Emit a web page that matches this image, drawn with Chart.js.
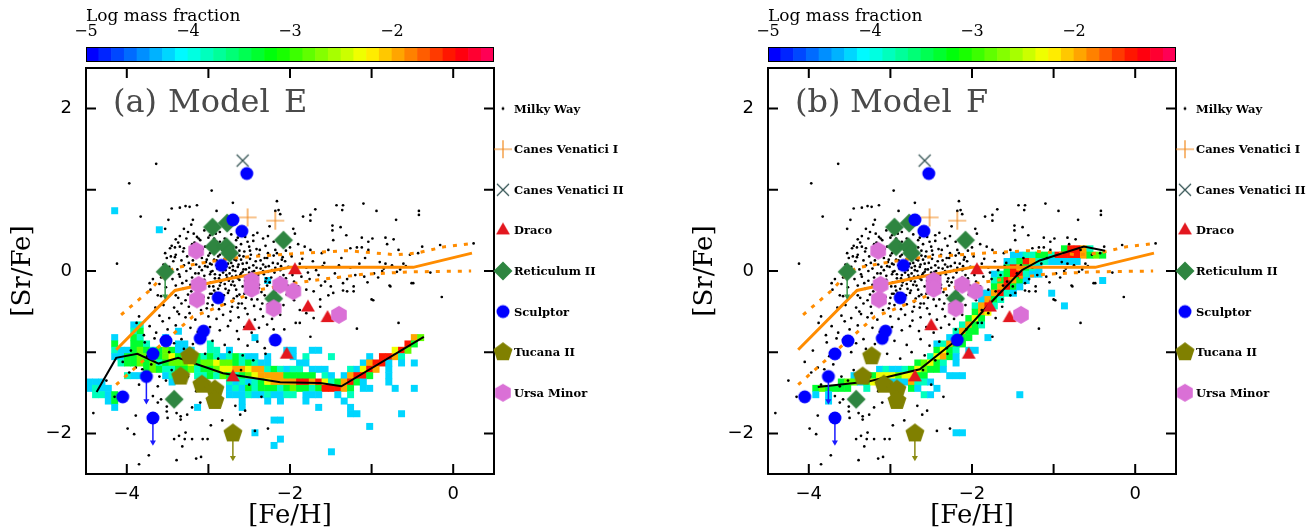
<!DOCTYPE html>
<html>
<head>
<meta charset="utf-8">
<script src="https://cdn.jsdelivr.net/npm/chart.js@4.4.1/dist/chart.umd.min.js"></script>
<style>
  html, body { margin: 0; padding: 0; background: #fff; }
  #page { position: relative; width: 1309px; height: 529px; overflow: hidden; }
  canvas { position: absolute; top: 0; }
</style>
</head>
<body>
<div id="page">
  <canvas id="panelA" width="654" height="529" style="left:0"></canvas>
  <canvas id="barA" width="654" height="68" style="left:0"></canvas>
  <canvas id="panelB" width="627" height="529" style="left:682px"></canvas>
  <canvas id="barB" width="627" height="68" style="left:682px"></canvas>
</div>
<script>
// axes
const feRange = [-4.5, 0.5];
const srRange = [-2.5, 2.5];
const feTickLabels = [-4, -2, 0];
const srTickLabels = [-2, 0, 2];
const feFrameTicks = [-4, -3, -2, -1, 0];
const srFrameTicks = [-2, -1, 0, 1, 2];
const cbRange = [-5, -1];
const cbTickLabels = [-5, -4, -3, -2];
const cbStep = 0.125;
const binSize = 0.078125;

// log mass fraction for each letter used in the model grids
const levelValue = { c: -4.2, t: -3.85, g: -3.35, l: -2.85, y: -2.35, o: -1.95, r: -1.5 };

// model grid cells: [row, first column, cells]  ('.' = empty)
const heatE = [
  [41, 4, 'c'], [38, 11, 'c'], [30, 28, 'c'],
  [23, 7, 'ct'],
  [22, 7, 'tg.....c'],
  [21, 4, 'c..gt...c'], [21, 26, 'c'], [21, 51, 'ol'],
  [20, 4, 'g..ggt....cc...t'], [20, 50, 'rg'],
  [19, 4, 'tccglgtglgccc..tt.c'], [19, 31, 'cc..cc'], [19, 48, 'yrl'],
  [18, 4, 'ccggllggly' + 'glggtgtctg' + 'tcc.c'], [18, 32, 'c.t...t.....c.rrot'],
  [17, 5, 'tgglgltgll' + 'lygllyllgt' + 'gtcc'], [17, 33, 'cc........corrc.c.c'],
  [16, 9, 'glgttggltg' + 'glyyooyoot' + 'gtctt.ccc.' + '..tcyro.c'],
  [15, 6, 'tcc...ctcc' + '.ttgtlgtgl' + 'yooooggggg' + '.tc.corrg.' + '.c'],
  [14, 0, 'ccc..........c'], [14, 22, 'tctctgyooo' + 'orrorytgor' + 'gc...c'],
  [13, 0, 'ctcc'], [13, 22, 'ctcgtgggtg' + 'lggtgrrrog' + '.cc...c..c'],
  [12, 1, 'ttcg'], [12, 22, 'ccctcctcct' + 't.ccc..c.t'],
  [11, 3, 'cg'], [11, 24, 'c...c.c...c.....c'],
  [10, 4, 'c'], [10, 17, 'c'], [10, 24, 'c'], [10, 36, 'c'], [10, 41, 'c'],
  [9, 41, 'cc......c'],
  [8, 29, 'cc'], [7, 44, 'c'], [6, 26, 'c'], [5, 30, 'c'], [4, 29, 'c'], [3, 38, 'c']
];
const heatF = [
  [35, 46, 'grrot'],
  [34, 38, 'ccttggtrrrroglg'],
  [33, 37, 'ctgrottccccc'],
  [32, 37, 'grogtc'],
  [31, 35, 'ctgrrtcc'],
  [30, 35, 'tgrogc'], [30, 52, 'c'],
  [29, 35, 'gorgc'],
  [28, 33, 'ccortc'], [28, 44, 'c'],
  [27, 33, 'cogt'],
  [26, 32, 'tort..........c'],
  [25, 32, 'goy'],
  [24, 31, 'gyg'],
  [23, 30, 'togt'],
  [22, 29, 'togg'],
  [21, 28, 'ctgg..c'],
  [20, 26, 'ctogg'],
  [19, 26, 'gygt.cc'],
  [18, 25, 'tyogc'],
  [17, 23, 'glygt.c'],
  [16, 17, 'ctcctgylggc'],
  [15, 13, 'cgtgyyylyygg...ccc'],
  [14, 11, 'gllcgyotcccottc'],
  [13, 7, 'glgggg..t......gc..c'],
  [12, 7, 'c.c..............tc.............c'],
  [11, 9, 'c'],
  [6, 29, 'cc']
];

// Milky Way stars [Fe/H], [Sr/Fe]
const milkyWay = [
  [-3.64,1.32],[-3.97,1.08],[-2.96,0.99],[-2.16,0.86],[-2.70,0.84],[-3.83,0.67],[-3.45,0.77],[-3.35,0.78],
  [-3.28,0.80],[-3.23,0.79],[-3.14,0.81],[-2.90,0.74],[-2.14,0.75],[-1.69,0.76],[-1.43,0.81],[-1.35,0.81],
  [-1.36,0.75],[-1.75,0.69],[-1.10,0.83],[-0.94,0.74],[-0.70,0.63],[-0.42,0.74],[-0.42,0.69],[-1.48,0.56],
  [-1.48,0.50],[-1.38,0.54],[-1.31,0.44],[-1.96,0.52],[-1.94,0.46],[-1.12,0.41],[-1.04,0.36],[-0.99,0.40],
  [-0.83,0.41],[-0.73,0.39],[-0.81,0.33],[-0.67,0.26],[0.25,0.34],[-1.26,0.28],[-1.18,0.29],[-1.12,0.29],
  [-1.04,0.26],[-0.38,0.30],[-0.16,0.32],[-0.53,0.20],[-0.43,0.22],[-0.28,-0.02],[-0.51,-0.15],[-0.78,-0.18],
  [-0.14,-0.32],[-1.00,-0.35],[-1.35,-0.24],[-1.30,-0.25],[-1.22,-0.25],[-1.53,-0.30],[-1.63,-0.35],[-1.71,-0.25],
  [-1.50,-0.19],[-1.57,-0.13],[-1.53,-0.09],[-1.41,-0.08],[-1.09,-0.07],[-1.20,-0.05],[-0.97,-0.03],[-0.87,0.00],
  [-0.85,0.03],[-0.65,0.02],[-0.69,-0.01],[-0.61,0.09],[-0.58,0.06],[-0.83,0.09],[-0.90,0.11],[-1.08,0.16],
  [-1.37,0.16],[-1.47,0.38],[-1.53,0.26],[-1.61,0.22],[-1.75,0.26],[-1.82,0.30],[-3.49,0.63],[-3.53,0.52],
  [-3.19,0.63],[-3.21,0.57],[-3.25,0.48],[-3.14,0.42],[-3.35,0.43],[-3.40,0.39],[-3.47,0.28],[-3.41,0.29],
  [-3.53,0.22],[-3.51,0.16],[-3.41,0.17],[-4.12,0.09],[-3.72,-0.15],[-3.60,-0.16],[-3.71,-0.23],[-1.84,0.67],
  [-1.75,0.62],[-2.18,0.74],[-2.12,0.70],
  [-3.85,-0.56],[-3.88,-0.64],[-3.79,-0.79],[-3.64,-0.76],[-3.66,-0.83],[-3.62,-1.01],[-3.54,-0.91],[-3.89,-1.19],
  [-3.81,-1.21],[-4.41,-1.75],[-3.89,-1.78],[-3.99,-1.94],[-3.91,-2.01],[-3.85,-2.38],[-3.73,-2.27],[-3.62,-1.62],
  [-3.58,-1.58],[-3.51,-1.67],[-3.50,-1.81],[-3.51,-1.73],[-3.62,-1.42],[-3.68,-1.54],[-3.42,-2.07],[-3.36,-2.03],
  [-3.28,-1.99],[-3.29,-2.07],[-3.20,-2.07],[-3.32,-2.16],[-3.39,-2.33],[-3.15,-2.31],[-3.09,-2.29],[-3.20,-1.68],
  [-3.26,-1.77],[-3.34,-1.79],[-3.39,-1.75],[-3.34,-1.83],[-2.97,-1.90],[-2.83,-1.84],[-3.07,-2.07],[-3.01,-2.07],
  [-2.61,-1.77],[-2.27,-1.94],[-1.93,-0.64],[-2.43,-1.97],[-2.67,-1.66],[-1.18,-0.71],[-1.75,-0.81],[-2.20,-0.72],
  [-1.88,-0.64],[-1.71,-0.58],[-1.63,-0.44],[-1.47,-0.27],[-1.22,-0.19],[-1.35,-0.15],[-0.98,-0.36],[-0.67,-0.64],
  [-0.77,-0.19],[-0.49,-0.15],[-1.88,-0.48],[-1.80,-0.52],
  [-3.30,0.52],[-3.05,0.50],[-2.86,0.48],[-2.62,0.53],[-2.40,0.47],[-2.25,0.55],[-3.18,0.46],[-2.98,0.44],
  [-2.72,0.45],[-3.27,0.40],[-3.10,0.38],[-3.00,0.41],[-2.90,0.36],[-2.80,0.40],[-2.66,0.38],[-2.55,0.42],
  [-2.45,0.37],[-2.33,0.40],[-2.20,0.36],[-2.05,0.42],[-3.37,0.35],[-2.95,0.34],[-2.60,0.33],[-3.45,0.31],
  [-3.30,0.28],[-3.20,0.33],[-3.04,0.30],[-2.92,0.27],[-2.85,0.31],[-2.70,0.28],[-2.62,0.25],[-2.50,0.30],
  [-2.41,0.27],[-2.30,0.31],[-2.18,0.26],[-2.00,0.29],[-1.90,0.33],[-3.12,0.25],[-2.98,0.22],[-2.77,0.24],
  [-3.40,0.20],[-3.26,0.18],[-3.18,0.21],[-3.08,0.16],[-3.00,0.19],[-2.93,0.14],[-2.86,0.20],[-2.80,0.15],
  [-2.72,0.19],[-2.66,0.13],[-2.57,0.18],[-2.49,0.15],[-2.38,0.20],[-2.28,0.16],[-2.20,0.19],[-2.10,0.14],
  [-1.98,0.18],[-1.85,0.15],[-3.33,0.13],[-3.03,0.11],[-2.76,0.09],[-2.53,0.10],[-2.33,0.08],[-3.48,0.05],
  [-3.38,0.02],[-3.30,0.07],[-3.22,0.03],[-3.15,0.08],[-3.08,0.01],[-3.01,0.05],[-2.95,0.00],[-2.90,0.07],
  [-2.83,0.02],[-2.78,0.06],[-2.70,0.01],[-2.64,0.05],[-2.58,-0.01],[-2.50,0.04],[-2.44,0.00],[-2.36,0.03],
  [-2.27,-0.01],[-2.18,0.04],[-2.12,0.01],[-2.02,0.05],[-1.92,0.02],[-1.80,0.04],[-1.68,0.01],[-1.60,0.06],
  [-3.12,-0.03],[-2.98,-0.04],[-2.86,-0.05],[-2.74,-0.03],[-2.61,-0.05],[-2.47,-0.06],[-2.32,-0.04],[-3.44,-0.10],
  [-3.35,-0.07],[-3.27,-0.12],[-3.20,-0.08],[-3.05,-0.11],[-2.97,-0.14],[-2.92,-0.09],[-2.84,-0.12],[-2.77,-0.08],
  [-2.70,-0.13],[-2.64,-0.09],[-2.55,-0.12],[-2.40,-0.10],[-2.30,-0.13],[-2.23,-0.08],[-2.15,-0.12],[-2.05,-0.09],
  [-1.95,-0.13],[-1.86,-0.07],[-1.76,-0.10],[-1.65,-0.05],[-3.52,-0.20],[-3.40,-0.18],[-3.31,-0.22],[-3.22,-0.17],
  [-3.06,-0.21],[-2.99,-0.19],[-2.93,-0.24],[-2.86,-0.18],[-2.79,-0.22],[-2.72,-0.17],[-2.66,-0.23],[-2.58,-0.19],
  [-2.52,-0.25],[-2.38,-0.21],[-2.28,-0.18],[-2.19,-0.23],[-2.10,-0.20],[-2.00,-0.24],[-1.90,-0.19],[-1.80,-0.23],
  [-3.58,-0.31],[-3.45,-0.28],[-3.37,-0.33],[-3.25,-0.29],[-3.06,-0.32],[-2.98,-0.28],[-2.92,-0.35],[-2.84,-0.30],
  [-2.76,-0.27],[-2.69,-0.34],[-2.62,-0.29],[-2.54,-0.33],[-2.46,-0.28],[-2.40,-0.35],[-2.31,-0.30],[-2.13,-0.33],
  [-2.04,-0.29],[-1.95,-0.36],[-3.55,-0.42],[-3.42,-0.45],[-3.33,-0.40],[-3.24,-0.44],[-3.15,-0.41],[-3.02,-0.46],
  [-2.95,-0.42],[-2.87,-0.47],[-2.80,-0.41],[-2.71,-0.44],[-2.63,-0.40],[-2.55,-0.46],[-2.44,-0.43],[-2.36,-0.47],
  [-2.27,-0.41],[-2.17,-0.45],[-2.08,-0.42],[-3.60,-0.55],[-3.48,-0.58],[-3.36,-0.53],[-3.28,-0.57],[-3.16,-0.60],
  [-3.00,-0.56],[-2.90,-0.59],[-2.82,-0.54],[-2.73,-0.61],[-2.63,-0.57],[-2.52,-0.53],[-2.43,-0.60],[-2.33,-0.56],
  [-2.22,-0.59],[-2.12,-0.54],[-3.72,-0.68],[-3.50,-0.72],[-3.40,-0.67],[-3.22,-0.70],[-3.13,-0.75],[-2.98,-0.69],
  [-2.86,-0.73],[-2.76,-0.68],[-2.65,-0.74],[-2.56,-0.69],[-2.47,-0.76],[-2.38,-0.70],[-2.28,-0.66],[-2.07,-0.72],
  [-3.78,-0.88],[-3.58,-0.85],[-3.42,-0.89],[-3.33,-0.84],[-3.19,-0.90],[-2.95,-0.86],[-2.80,-0.91],[-2.63,-0.84],
  [-2.52,-0.92],[-2.40,-0.87],[-2.31,-0.95],[-2.22,-0.90],[-3.95,-0.98],[-3.75,-1.05],[-3.48,-1.00],[-3.30,-0.96],
  [-3.04,-1.02],[-2.88,-1.08],[-2.74,-1.00],[-2.58,-1.04],[-2.45,-1.10],[-2.30,-1.02],[-3.97,-1.25],[-3.70,-1.15],
  [-3.45,-1.22],[-3.52,-1.35],[-3.25,-1.30],[-3.15,-1.48],[-2.50,-1.40],[-2.35,-1.55],[-2.60,-1.22],[-4.05,-1.12],
  [-3.85,-1.40],[-3.60,-1.30],[-2.85,-1.60],[-2.55,-1.72],[-3.10,-1.62],[-4.15,-1.55],[-4.25,-1.35],
  [-3.43,0.12],[-3.36,-0.04],[-3.31,0.24],[-3.28,-0.36],[-3.24,0.10],[-3.21,-0.25],[-3.17,0.35],[-3.14,-0.14],
  [-3.11,0.05],[-3.09,-0.48],[-3.07,0.27],[-3.05,-0.06],[-3.02,0.14],[-3.00,-0.33],[-2.99,0.31],[-2.97,-0.01],
  [-2.96,0.08],[-2.94,-0.19],[-2.93,0.40],[-2.91,-0.27],[-2.89,0.03],[-2.88,0.18],[-2.87,-0.09],[-2.85,0.11],
  [-2.84,-0.38],[-2.83,0.26],[-2.82,-0.02],[-2.81,0.07],[-2.80,-0.16],[-2.79,0.33],[-2.78,-0.05],[-2.76,0.16],
  [-2.75,-0.24],[-2.74,0.04],[-2.73,-0.50],[-2.72,0.10],[-2.71,-0.07],[-2.69,0.21],[-2.68,-0.18],[-2.67,0.00],
  [-2.66,0.29],[-2.65,-0.31],[-2.63,0.08],[-2.62,-0.11],[-2.60,0.14],[-2.59,-0.40],[-2.57,0.02],[-2.56,0.24],
  [-2.55,-0.07],[-2.53,-0.20],[-2.52,0.36],[-2.50,-0.02],[-2.48,0.20],[-2.47,-0.35],[-2.45,0.07],[-2.43,-0.15],
  [-2.42,0.12],[-2.39,-0.05],[-2.37,0.26],[-2.35,-0.26],[-2.33,0.00],[-2.31,0.16],[-2.29,-0.09],[-2.26,0.06],
  [-2.24,-0.30],[-2.21,0.10],[-2.19,-0.02],[-2.16,0.22],[-2.14,-0.16],[-2.11,0.06],[-2.08,-0.05],[-2.06,0.12],
  [-2.03,-0.18],[-3.40,-0.30],[-3.35,0.30],[-3.32,-0.15],[-3.27,0.00],[-3.23,-0.52],[-3.19,0.13],[-3.16,-0.03],
  [-3.13,-0.30],[-3.10,0.20],[-3.08,-0.18],[-3.04,0.06],[-3.01,-0.40],[-2.98,0.09],[-2.96,-0.28],[-2.95,0.25],
  [-2.92,-0.04],[-2.90,0.13],[-2.88,-0.22],[-2.86,0.36],[-2.85,-0.14],[-2.83,0.09],[-2.81,-0.30],[-2.79,0.01],
  [-2.77,0.21],[-2.75,-0.12],[-2.73,0.30],[-2.71,-0.38],[-2.70,0.06],[-2.68,0.14],[-2.66,-0.06],[-2.64,-0.45],
  [-2.62,0.19],[-2.60,-0.03],[-2.58,0.09],[-2.56,-0.28],[-2.54,0.02],[-2.51,-0.13],[-2.49,0.25],[-2.46,-0.01],
  [-2.44,-0.24],[-2.41,0.04],[-2.38,-0.17],[-2.36,0.13],[-2.34,-0.40],[-2.30,0.05],[-2.27,0.22],[-2.25,-0.14],
  [-2.22,0.01],[-2.18,-0.27],[-2.15,0.09],[-2.12,-0.08],[-2.09,0.17],[-3.50,-0.05],[-3.46,0.18],[-3.55,0.08],
  [-3.62,-0.30],[-3.58,-0.08],[-3.65,-0.45],[-3.56,-0.62],[-3.68,-0.10],[-3.38,-0.50],[-3.20,-0.38],[-3.12,0.40],
  [-2.91,0.46],[-2.64,0.41],[-2.45,0.44],[-2.27,0.43],[-2.05,0.25],[-1.97,-0.05],[-1.88,0.09],[-1.78,-0.02],
  [-1.72,0.12],[-1.62,-0.18],[-1.58,0.10],[-1.45,-0.03],[-1.40,0.07],[-1.30,-0.10],[-1.26,0.04],[-1.15,0.09],
  [-1.05,-0.14],[-0.92,-0.08],[-0.75,0.07]
];

// Milky Way trend lines (solid: median, dotted: spread)
const mwMedFe = [-4.13, -3.41, -2.72, -2.00, -0.49, 0.23];
const mwMedSr = [-0.97, -0.24, -0.09, 0.045, 0.045, 0.22];
const mwHiFe = [-4.07, -3.72, -3.51, -3.40, -3.13, -2.70, -2.00, -1.67, -1.30, -0.70, -0.45, -0.10, 0.25];
const mwHiSr = [-0.54, -0.24, -0.01, 0.04, 0.09, 0.16, 0.21, 0.23, 0.25, 0.20, 0.22, 0.30, 0.34];
const mwLoFe = [-4.13, -3.19, -3.02, -2.78, -2.37, -2.00, -1.67, -1.10, -0.50, 0.22];
const mwLoSr = [-1.40, -0.56, -0.50, -0.40, -0.23, -0.16, -0.11, -0.04, -0.01, 0.00];

// model medians
const modelEFe = [-4.37, -4.13, -3.87, -3.61, -3.37, -2.82, -2.12, -1.63, -1.37, -0.36];
const modelESr = [-1.49, -1.07, -1.02, -1.14, -1.07, -1.26, -1.37, -1.38, -1.42, -0.81];
const modelFFe = [-3.89, -3.27, -2.64, -2.19, -1.78, -1.39, -1.17, -0.63, -0.37];
const modelFSr = [-1.43, -1.36, -1.21, -0.85, -0.40, 0.01, 0.13, 0.30, 0.25];

// dwarf galaxy stars
const cvn1 = [[-2.52, 0.66], [-2.18, 0.62]];
const cvn2 = [[-2.58, 1.36]];
const draco = [[-1.94, 0.01], [-1.78, -0.45], [-1.54, -0.58], [-2.50, -0.68], [-2.04, -1.03], [-2.70, -1.31]];
const ret2 = [[-2.95, 0.54], [-2.77, 0.59], [-2.93, 0.30], [-2.78, 0.30], [-2.74, 0.22], [-2.08, 0.38], [-3.53, -0.01], [-2.20, -0.34], [-3.42, -1.58]];
const sculptor = [[-2.53, 1.20], [-2.70, 0.63], [-2.59, 0.49], [-2.84, 0.07], [-2.88, -0.33], [-3.06, -0.74], [-3.10, -0.83], [-3.52, -0.86], [-3.68, -1.02], [-3.76, -1.30], [-4.05, -1.55], [-3.68, -1.81], [-2.18, -0.85]];
const tucana2 = [[-3.23, -1.05], [-3.34, -1.30], [-3.08, -1.40], [-2.92, -1.46], [-2.92, -1.60], [-2.70, -2.00]];
const ursaMinor = [[-3.15, 0.25], [-3.12, -0.17], [-3.14, -0.35], [-2.47, -0.12], [-2.47, -0.22], [-2.12, -0.17], [-1.96, -0.25], [-2.20, -0.46], [-1.40, -0.54]];
// upper limits
const ret2Limits = [[-3.53, -0.01]];
const sculptorLimits = [[-3.76, -1.30], [-3.68, -1.81]];
const tucana2Limits = [[-2.70, -2.00]];
const limitLength = 0.3;

// ---------- helpers ----------
const minus = v => (v < 0 ? '\u2212' + Math.abs(v) : String(v));

function colorFor(v) {
  const n = Math.round((cbRange[1] - cbRange[0]) / cbStep);
  const k = Math.max(0, Math.min(n - 1, Math.floor((v - cbRange[0]) / cbStep)));
  let hue = 240 - k * 260 / (n - 1);
  if (hue < 0) hue += 360;
  return 'hsl(' + hue + ',100%,50%)';
}

function heatPoints(rows) {
  const pts = [];
  rows.forEach(([row, col0, cells]) => {
    [...cells].forEach((ch, k) => {
      if (ch === '.') return;
      pts.push({
        x: feRange[0] + (col0 + k + 0.5) * binSize,
        y: srRange[0] + (row + 0.5) * binSize,
        v: levelValue[ch]
      });
    });
  });
  return pts;
}

const xy = arr => arr.map(([x, y]) => ({ x, y }));
const zipXY = (xs, ys) => xs.map((x, i) => ({ x, y: ys[i] }));

function makeMarker(kind, color) {
  const c = document.createElement('canvas');
  c.width = 24; c.height = 24;
  const g = c.getContext('2d');
  const m = 12;
  g.fillStyle = color; g.strokeStyle = color; g.lineWidth = 1.2;
  const poly = (n, r) => {
    g.beginPath();
    for (let i = 0; i < n; i++) {
      const a = -Math.PI / 2 + i * 2 * Math.PI / n;
      g.lineTo(m + r * Math.cos(a), m + r * Math.sin(a));
    }
    g.closePath(); g.fill();
  };
  if (kind === 'dot') { g.beginPath(); g.arc(m, m, 1.4, 0, 2 * Math.PI); g.fill(); }
  if (kind === 'plus') { g.beginPath(); g.moveTo(m - 9, m); g.lineTo(m + 9, m); g.moveTo(m, m - 9); g.lineTo(m, m + 9); g.stroke(); }
  if (kind === 'cross') { g.beginPath(); g.moveTo(m - 6, m - 6); g.lineTo(m + 6, m + 6); g.moveTo(m + 6, m - 6); g.lineTo(m - 6, m + 6); g.stroke(); }
  if (kind === 'triangle') poly(3, 8);
  if (kind === 'diamond') poly(4, 9.5);
  if (kind === 'circle') { g.beginPath(); g.arc(m, m, 6.5, 0, 2 * Math.PI); g.fill(); }
  if (kind === 'pentagon') poly(5, 10);
  if (kind === 'hexagon') poly(6, 9);
  return c;
}

const orange = '#ff8c00';
const galaxies = [
  { label: 'Canes Venatici I', pts: cvn1, img: makeMarker('plus', '#f28a1e') },
  { label: 'Canes Venatici II', pts: cvn2, img: makeMarker('cross', '#2f4f4f') },
  { label: 'Draco', pts: draco, img: makeMarker('triangle', '#e3171f') },
  { label: 'Reticulum II', pts: ret2, img: makeMarker('diamond', '#2e8540') },
  { label: 'Sculptor', pts: sculptor, img: makeMarker('circle', '#0000ff') },
  { label: 'Tucana II', pts: tucana2, img: makeMarker('pentagon', '#808000') },
  { label: 'Ursa Minor', pts: ursaMinor, img: makeMarker('hexagon', '#da70d6') }
];
const legendItems = [{ label: 'Milky Way', img: makeMarker('dot', '#000') }].concat(galaxies);
const arrowSets = [
  { pts: ret2Limits, color: '#3a9a4c' },
  { pts: sculptorLimits, color: '#1a1aff' },
  { pts: tucana2Limits, color: '#8a8a10' }
];

// ---------- plugins ----------
const framePlugin = {
  id: 'frame',
  afterDatasetsDraw(chart) {
    const { ctx, chartArea: a, scales: { x, y } } = chart;
    ctx.save();
    ctx.strokeStyle = '#000';
    ctx.lineWidth = 2;
    ctx.strokeRect(a.left, a.top, a.right - a.left, a.bottom - a.top);
    ctx.beginPath();
    feFrameTicks.forEach(v => {
      const px = x.getPixelForValue(v);
      ctx.moveTo(px, a.bottom); ctx.lineTo(px, a.bottom - 10);
      ctx.moveTo(px, a.top); ctx.lineTo(px, a.top + 10);
    });
    srFrameTicks.forEach(v => {
      const py = y.getPixelForValue(v);
      ctx.moveTo(a.left, py); ctx.lineTo(a.left + 10, py);
      ctx.moveTo(a.right, py); ctx.lineTo(a.right - 10, py);
    });
    ctx.stroke();
    ctx.restore();
  }
};

function decorPlugin(tag, model) {
  return {
    id: 'decor',
    afterDraw(chart) {
      const { ctx, chartArea: a, scales: { y } } = chart;
      ctx.save();
      // panel label
      ctx.fillStyle = '#4a4a4a';
      ctx.font = '32px "DejaVu Serif"';
      ctx.textBaseline = 'alphabetic';
      ctx.fillText(tag, a.left + 27, a.top + 44);
      ctx.fillText('Model', a.left + 82, a.top + 44);
      ctx.fillText(model, a.left + 198, a.top + 44);
      // legend
      ctx.fillStyle = '#000';
      ctx.font = 'bold 11.5px "DejaVu Serif"';
      ctx.textBaseline = 'middle';
      legendItems.forEach((it, i) => {
        const py = y.getPixelForValue(2 - 0.5 * i);
        const px = a.right + 9;
        ctx.drawImage(it.img, px - 12, py - 12);
        ctx.fillText(it.label, px + 11, py + 1);
      });
      ctx.restore();
    }
  };
}

function lineDs(points, style, order) {
  return Object.assign({ data: points, showLine: true, pointRadius: 0, fill: false, tension: 0, order }, style);
}

function makePanel(id, heatRows, modelFe, modelSr, tag, model, rightPad) {
  const datasets = [];
  datasets.push({
    data: heatPoints(heatRows),
    pointStyle: 'rect',
    pointRadius: c => {
      const sx = c.chart.scales.x;
      return (Math.abs(sx.getPixelForValue(binSize) - sx.getPixelForValue(0)) + 0.6) / Math.SQRT2;
    },
    backgroundColor: c => (c.raw ? colorFor(c.raw.v) : 'rgba(0,0,0,0)'),
    borderWidth: 0,
    order: 100
  });
  datasets.push({ data: xy(milkyWay), pointStyle: 'circle', pointRadius: 1.35, backgroundColor: '#000', borderWidth: 0, order: 90 });
  datasets.push(lineDs(zipXY(mwMedFe, mwMedSr), { borderColor: orange, borderWidth: 3 }, 80));
  datasets.push(lineDs(zipXY(mwHiFe, mwHiSr), { borderColor: orange, borderWidth: 3, borderDash: [4, 7] }, 81));
  datasets.push(lineDs(zipXY(mwLoFe, mwLoSr), { borderColor: orange, borderWidth: 3, borderDash: [4, 7] }, 82));
  datasets.push(lineDs(zipXY(modelFe, modelSr), { borderColor: '#000', borderWidth: 2 }, 70));
  arrowSets.forEach(set => {
    set.pts.forEach(([x, y]) => {
      datasets.push({
        data: [{ x, y }, { x, y: y - limitLength }],
        showLine: true, borderColor: set.color, borderWidth: 1.5,
        pointStyle: 'triangle', rotation: 180,
        pointRadius: [0, 3.5], backgroundColor: set.color, pointBorderWidth: 0,
        order: 60
      });
    });
  });
  galaxies.forEach((gal, i) => {
    datasets.push({ data: xy(gal.pts), pointStyle: gal.img, order: 50 - i });
  });

  new Chart(document.getElementById(id), {
    type: 'scatter',
    data: { datasets },
    options: {
      responsive: false,
      animation: false,
      events: [],
      layout: { padding: { top: 68, right: rightPad, left: 0, bottom: 0 } },
      plugins: { legend: { display: false }, tooltip: { enabled: false } },
      scales: {
        x: {
          type: 'linear', min: feRange[0], max: feRange[1],
          afterBuildTicks: s => { s.ticks = feTickLabels.map(v => ({ value: v })); },
          afterFit: s => { s.height = 55; },
          grid: { display: false, drawTicks: false },
          border: { display: false },
          ticks: { padding: 10, color: '#000', font: { family: 'DejaVu Sans', size: 18 }, callback: minus },
          title: { display: true, text: '[Fe/H]', color: '#000', font: { family: 'DejaVu Serif', size: 26, lineHeight: 1 }, padding: { top: 0, bottom: 0 } }
        },
        y: {
          type: 'linear', min: srRange[0], max: srRange[1],
          afterBuildTicks: s => { s.ticks = srTickLabels.map(v => ({ value: v })); },
          afterFit: s => { s.width = 86; },
          grid: { display: false, drawTicks: false },
          border: { display: false },
          ticks: { padding: 14, color: '#000', font: { family: 'DejaVu Sans', size: 18 }, callback: minus },
          title: { display: true, text: '[Sr/Fe]', color: '#000', font: { family: 'DejaVu Serif', size: 26, lineHeight: 1 }, padding: { top: 10, bottom: 0 } }
        }
      }
    },
    plugins: [framePlugin, decorPlugin(tag, model)]
  });
}

function makeColorbar(id, rightPad) {
  const n = Math.round((cbRange[1] - cbRange[0]) / cbStep);
  const centers = Array.from({ length: n }, (_, k) => cbRange[0] + (k + 0.5) * cbStep);
  new Chart(document.getElementById(id), {
    type: 'bar',
    data: {
      datasets: [{
        data: centers.map(v => ({ x: v, y: 1 })),
        backgroundColor: centers.map(colorFor),
        borderWidth: 0, barPercentage: 1, categoryPercentage: 1
      }]
    },
    options: {
      responsive: false, animation: false, events: [],
      layout: { padding: { left: 86, right: rightPad, top: 0, bottom: 6 } },
      plugins: { legend: { display: false }, tooltip: { enabled: false } },
      scales: {
        x: {
          type: 'linear', position: 'top', offset: false, min: cbRange[0], max: cbRange[1],
          afterBuildTicks: s => { s.ticks = cbTickLabels.map(v => ({ value: v })); },
          afterFit: s => { s.height = 47; },
          grid: { display: false, drawTicks: false }, border: { display: false },
          ticks: { padding: 6, color: '#000', font: { family: 'DejaVu Serif', size: 16 }, callback: minus }
        },
        y: { display: false, min: 0, max: 1 }
      }
    },
    plugins: [{
      id: 'cbFrame',
      afterDraw(chart) {
        const { ctx, chartArea: a } = chart;
        ctx.save();
        ctx.strokeStyle = '#000'; ctx.lineWidth = 1;
        ctx.strokeRect(a.left + 0.5, a.top + 0.5, a.right - a.left - 1, a.bottom - a.top - 1);
        ctx.fillStyle = '#000';
        ctx.font = '17px "DejaVu Serif"';
        ctx.textBaseline = 'alphabetic';
        ctx.fillText('Log mass fraction', a.left, 21);
        ctx.restore();
      }
    }]
  });
}

Chart.defaults.font.family = 'DejaVu Sans';
makeColorbar('barA', 160);
makeColorbar('barB', 133);
makePanel('panelA', heatE, modelEFe, modelESr, '(a)', 'E', 160);
makePanel('panelB', heatF, modelFFe, modelFSr, '(b)', 'F', 133);
</script>
</body>
</html>
